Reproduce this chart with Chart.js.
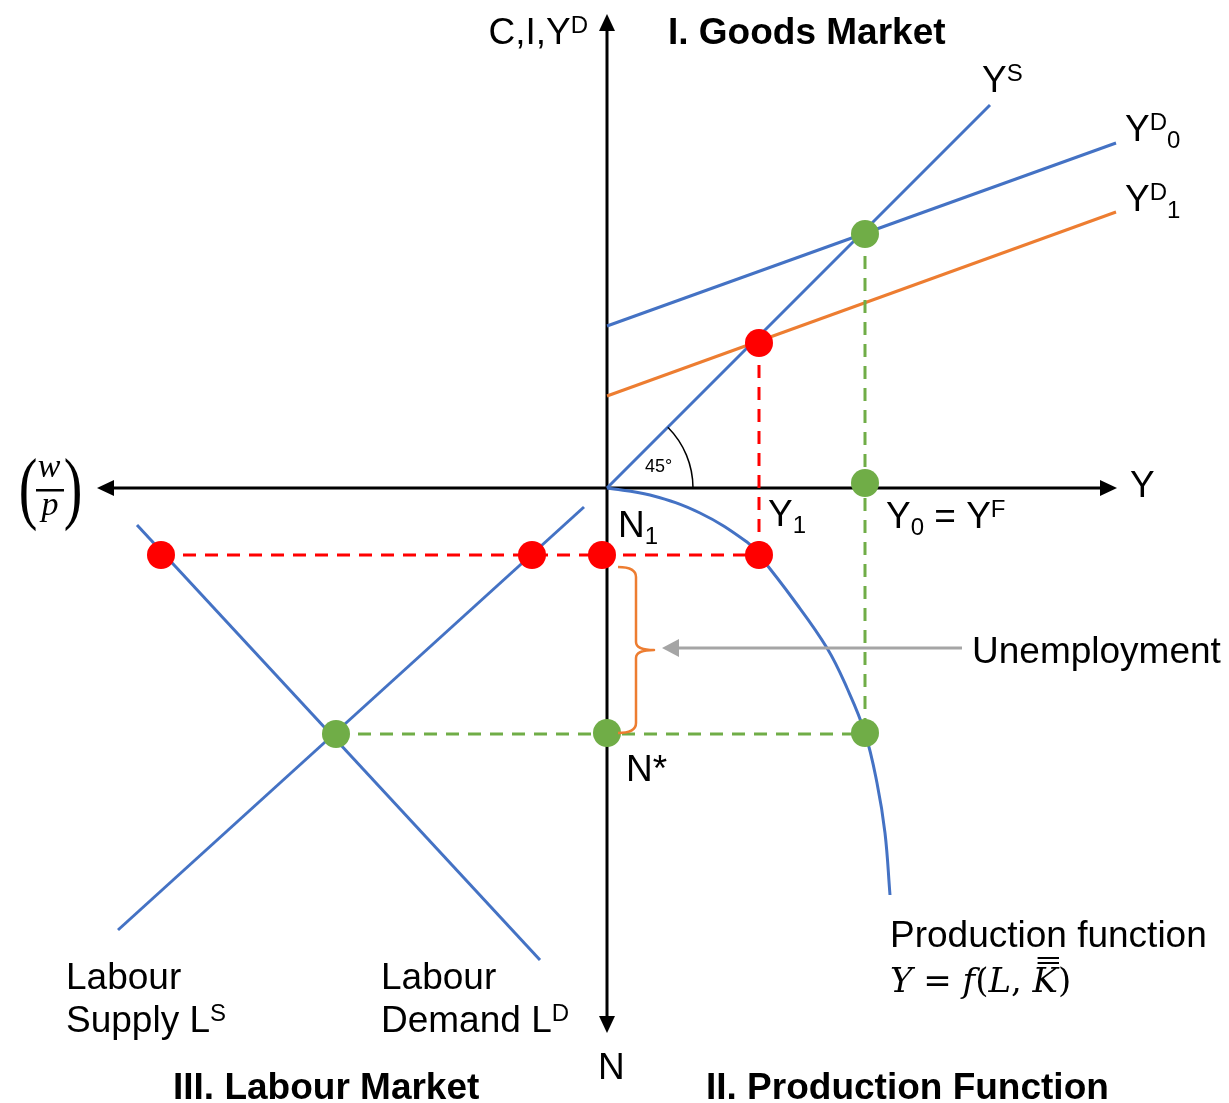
<!DOCTYPE html>
<html lang="en">
<head>
<meta charset="UTF-8">
<title>Goods Market, Production Function and Labour Market</title>
<script src="https://cdn.jsdelivr.net/npm/chart.js"></script>
<style>
  body { margin: 0; background: #fff; }
  canvas { display: block; }
</style>
</head>
<body>
<canvas id="diagram" width="1229" height="1103"></canvas>
<script>
// origin = where the two axes cross; x to the right, y upwards
// I. goods market
const ysLine = [[0, 0], [383, 383]];
const yd0Line = [[0, 162], [509, 345]];
const yd1Line = [[0, 92], [509, 276]];
// II. production function
const prodFn = [[0, 0], [43, -7], [93, -25], [140, -54], [152, -67], [186, -111], [220, -160],
                [240, -200], [258, -245], [270, -295], [278, -345], [283, -407]];
// III. labour market
const labourSupply = [[-23, -19], [-489, -442]];
const labourDemand = [[-470, -37], [-67, -472]];
// marked points and guide lines
const redDots = [[-446, -67], [-75, -67], [-5, -67], [152, -67], [152, 145]];
const greenDots = [[258, 254], [258, 5], [258, -245], [0, -245], [-271, -246]];
const redGuides = [[[-446, -67], [152, -67]], [[152, 145], [152, -67]]];
const greenGuides = [[[-271, -246], [258, -246]], [[258, 254], [258, -245]]];
// axes extent and unemployment gap (N1 .. N*)
const axisX = [-510, 510];
const axisY = [-545, 474];
const unemployment = [-79, -245];

const BLUE = '#4472C4', ORANGE = '#ED7D31', GREEN = '#70AD47', RED = '#FF0000', GREY = '#A5A5A5';
const SANS = '"Liberation Sans", Arial, sans-serif';
const SERIF = '"Liberation Serif", "Times New Roman", serif';
const MATH = '"DejaVu Serif", serif';

const pts = arr => arr.map(p => ({ x: p[0], y: p[1] }));

function lineSet(data, color, dash) {
    return {
        data: pts(data), showLine: true, borderColor: color, borderWidth: 3,
        borderDash: dash ? [13, 9] : [], pointRadius: 0, fill: false
    };
}
function dotSet(data, color) {
    return {
        data: pts(data), showLine: false, pointRadius: 14, pointBackgroundColor: color,
        pointBorderWidth: 0, borderColor: color
    };
}

const datasets = [
    dotSet(redDots, RED),
    dotSet(greenDots, GREEN),
    lineSet(redGuides[0], RED, true),
    lineSet(redGuides[1], RED, true),
    lineSet(greenGuides[0], GREEN, true),
    lineSet(greenGuides[1], GREEN, true),
    lineSet(ysLine, BLUE),
    lineSet(yd0Line, BLUE),
    lineSet(yd1Line, ORANGE),
    Object.assign(lineSet(prodFn, BLUE), { tension: 0.4 }),
    lineSet(labourSupply, BLUE),
    lineSet(labourDemand, BLUE)
];

// text made of normal / superscript / subscript pieces
function rich(ctx, x, y, parts, size, align) {
    const small = Math.round(size * 0.66);
    let w = 0;
    parts.forEach(p => {
        ctx.font = (p[1] === 'n' ? size : small) + 'px ' + SANS;
        w += ctx.measureText(p[0]).width;
    });
    let cx = align === 'right' ? x - w : x;
    ctx.textAlign = 'left';
    ctx.textBaseline = 'alphabetic';
    parts.forEach(p => {
        ctx.font = (p[1] === 'n' ? size : small) + 'px ' + SANS;
        const dy = p[1] === 'sup' ? -size * 0.3 : p[1] === 'sub' ? size * 0.2 : 0;
        ctx.fillText(p[0], cx, y + dy);
        cx += ctx.measureText(p[0]).width;
    });
}

function arrowHead(ctx, x, y, dx, dy, len, half) {
    // tip at (x, y), pointing in direction (dx, dy)
    const nx = -dy, ny = dx;
    ctx.beginPath();
    ctx.moveTo(x, y);
    ctx.lineTo(x - dx * len + nx * half, y - dy * len + ny * half);
    ctx.lineTo(x - dx * len - nx * half, y - dy * len - ny * half);
    ctx.closePath();
    ctx.fill();
}

const decorations = {
    id: 'decorations',
    beforeDatasetsDraw(chart) {
        const { ctx, scales: { x, y } } = chart;
        const X = v => x.getPixelForValue(v), Y = v => y.getPixelForValue(v);
        ctx.save();
        // axes with arrows
        ctx.strokeStyle = '#000'; ctx.fillStyle = '#000'; ctx.lineWidth = 3;
        ctx.beginPath();
        ctx.moveTo(X(axisX[0]) + 14, Y(0)); ctx.lineTo(X(axisX[1]) - 14, Y(0));
        ctx.moveTo(X(0), Y(axisY[1]) + 14); ctx.lineTo(X(0), Y(axisY[0]) - 14);
        ctx.stroke();
        arrowHead(ctx, X(axisX[0]), Y(0), -1, 0, 17, 8);
        arrowHead(ctx, X(axisX[1]), Y(0), 1, 0, 17, 8);
        arrowHead(ctx, X(0), Y(axisY[1]), 0, -1, 17, 8);
        arrowHead(ctx, X(0), Y(axisY[0]), 0, 1, 17, 8);
        ctx.restore();
    },
    afterDatasetsDraw(chart) {
        const { ctx, scales: { x, y } } = chart;
        const X = v => x.getPixelForValue(v), Y = v => y.getPixelForValue(v);
        ctx.save();

        // 45 degree arc
        ctx.strokeStyle = '#000'; ctx.lineWidth = 1.5;
        ctx.beginPath();
        ctx.arc(X(0), Y(0), 86, -Math.PI / 4, 0);
        ctx.stroke();
        ctx.fillStyle = '#000';
        ctx.font = '18px ' + SANS;
        ctx.fillText('45°', X(38), Y(16));

        // unemployment brace
        const bx = X(11), top = Y(unemployment[0]), bot = Y(unemployment[1]), mid = (top + bot) / 2;
        ctx.strokeStyle = ORANGE; ctx.lineWidth = 2.5; ctx.lineJoin = 'round';
        ctx.beginPath();
        ctx.moveTo(bx, top);
        ctx.quadraticCurveTo(bx + 18, top, bx + 18, top + 10);
        ctx.lineTo(bx + 18, mid - 8);
        ctx.quadraticCurveTo(bx + 18, mid, bx + 36, mid);
        ctx.quadraticCurveTo(bx + 18, mid, bx + 18, mid + 8);
        ctx.lineTo(bx + 18, bot - 10);
        ctx.quadraticCurveTo(bx + 18, bot, bx, bot);
        ctx.stroke();

        // grey arrow to the brace
        ctx.strokeStyle = GREY; ctx.fillStyle = GREY; ctx.lineWidth = 3;
        ctx.beginPath();
        ctx.moveTo(X(355), Y(-160)); ctx.lineTo(X(55) + 14, Y(-160));
        ctx.stroke();
        arrowHead(ctx, X(55), Y(-160), -1, 0, 17, 9);

        // labels
        ctx.fillStyle = '#000';
        const S = 37;
        rich(ctx, X(-19), Y(444), [['C,I,Y', 'n'], ['D', 'sup']], S, 'right');
        rich(ctx, X(375), Y(396), [['Y', 'n'], ['S', 'sup']], S);
        rich(ctx, X(518), Y(347), [['Y', 'n'], ['D', 'sup'], ['0', 'sub']], S);
        rich(ctx, X(518), Y(277), [['Y', 'n'], ['D', 'sup'], ['1', 'sub']], S);
        rich(ctx, X(523), Y(-9), [['Y', 'n']], S);
        rich(ctx, X(161), Y(-38), [['Y', 'n'], ['1', 'sub']], S);
        rich(ctx, X(279), Y(-40), [['Y', 'n'], ['0', 'sub'], [' = Y', 'n'], ['F', 'sup']], S);
        rich(ctx, X(11), Y(-49), [['N', 'n'], ['1', 'sub']], S);
        rich(ctx, X(19), Y(-293), [['N*', 'n']], S);
        rich(ctx, X(-9), Y(-591), [['N', 'n']], S);
        rich(ctx, X(-541), Y(-501), [['Labour', 'n']], S);
        rich(ctx, X(-541), Y(-544), [['Supply L', 'n'], ['S', 'sup']], S);
        rich(ctx, X(-226), Y(-501), [['Labour', 'n']], S);
        rich(ctx, X(-226), Y(-544), [['Demand L', 'n'], ['D', 'sup']], S);
        rich(ctx, X(283), Y(-459), [['Production function', 'n']], S);
        rich(ctx, X(365), Y(-175), [['Unemployment', 'n']], S);

        ctx.font = 'bold 37px ' + SANS;
        ctx.textAlign = 'left';
        ctx.fillText('I. Goods Market', X(61), Y(444));
        ctx.fillText('III. Labour Market', X(-434), Y(-611));
        ctx.fillText('II. Production Function', X(99), Y(-611));

        // Y = f(L, K) in math style
        let cx = X(283);
        const by = Y(-504);
        const mathParts = [['Y', 1], [' = ', 0], ['f', 1], ['(', 0], ['L', 1], [', ', 0], ['K', 1], [')', 0]];
        mathParts.forEach(p => {
            ctx.font = (p[1] ? 'italic ' : '') + '34px ' + MATH;
            const w = ctx.measureText(p[0]).width;
            ctx.fillText(p[0], cx, by);
            if (p[0] === 'K') {
                ctx.fillRect(cx + 5, by - 35, w - 4, 2);
                ctx.fillRect(cx + 5, by - 30, w - 4, 2);
            }
            cx += w;
        });

        // (w / p) on the left axis end
        const fx = X(-559), fy = Y(0);
        ctx.font = 'italic 34px ' + SERIF;
        ctx.textAlign = 'center';
        ctx.fillText('w', fx + 1, fy - 11);
        ctx.fillText('p', fx + 2, fy + 27);
        ctx.fillRect(fx - 12, fy + 1, 28, 2.5);
        ctx.save();
        ctx.translate(0, fy);
        ctx.scale(1, 1.45);
        ctx.font = '56px ' + SERIF;
        ctx.fillText('(', fx - 20, 18);
        ctx.fillText(')', fx + 25, 18);
        ctx.restore();

        ctx.restore();
    }
};

new Chart(document.getElementById('diagram'), {
    type: 'scatter',
    data: { datasets },
    options: {
        responsive: false,
        animation: false,
        devicePixelRatio: 1,
        layout: { padding: 0, autoPadding: false },
        plugins: { legend: { display: false }, tooltip: { enabled: false } },
        scales: {
            x: { type: 'linear', min: -607, max: 622, display: false },
            y: { type: 'linear', min: -615, max: 488, display: false }
        }
    },
    plugins: [decorations]
});
</script>
</body>
</html>
